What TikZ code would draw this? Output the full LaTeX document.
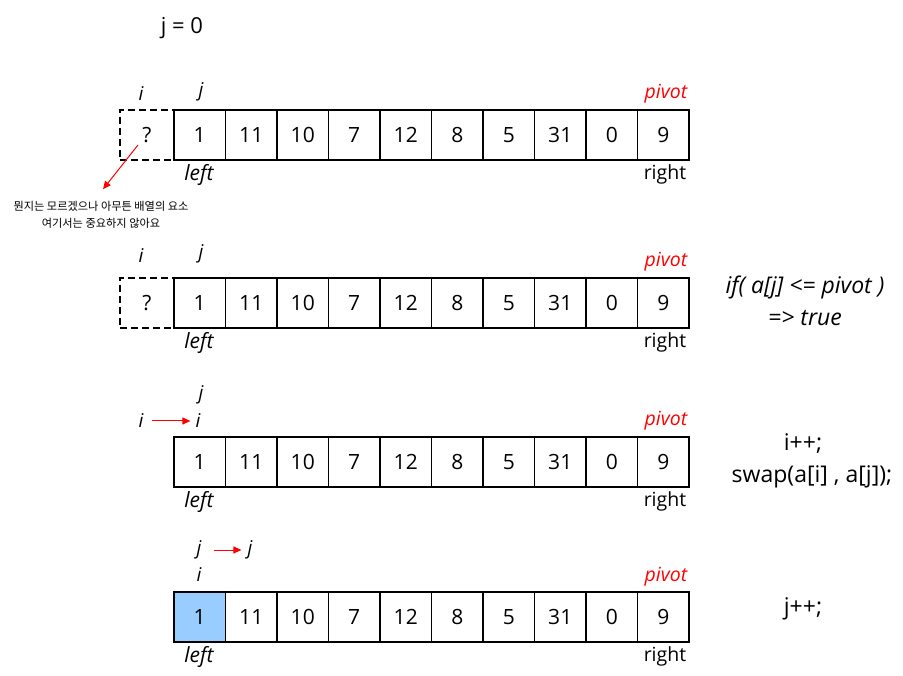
\documentclass[tikz,border=0pt]{standalone}
\usepackage{fontspec}
\setmainfont{Open Sans}
\newfontfamily\krfont{Noto Sans CJK KR}
\usepackage{tikz}
\definecolor{ptRed}{RGB}{255,0,0}
\definecolor{pickBlue}{RGB}{153,204,255}
\usetikzlibrary{positioning,arrows.meta}

\begin{document}
\begin{tikzpicture}[
  x=1pt,
  y=-1pt,
  >=Triangle,
  cell/.style={draw, line width=1.3pt, minimum width=51.5pt, minimum height=50pt, inner sep=0pt, font=\fontsize{21}{21}\selectfont},
  hole/.style={draw, line width=2pt, dash pattern=on 7pt off 4pt, minimum width=54pt, minimum height=50pt, inner sep=0pt, font=\fontsize{21}{21}\selectfont},
  var/.style={inner sep=0pt, font=\fontsize{19}{19}\selectfont\itshape},
  lbl/.style={inner sep=0pt, font=\fontsize{19.5}{19.5}\selectfont},
  pivotlbl/.style={inner sep=0pt, font=\fontsize{19.5}{19.5}\selectfont\itshape, text=ptRed},
  code/.style={inner sep=0pt, font=\fontsize{23}{23}\selectfont, align=center},
  redarr/.style={-{Triangle[length=8pt,width=7pt]}, ptRed, line width=1pt}
]
\useasboundingbox (0,0) rectangle (903,676);

\node[lbl, font=\fontsize{22}{22}\selectfont] (jzero) at (182,28) {j = 0};

% the four array rows
\foreach \row/\yy in {1/135, 2/303, 3/462, 4/617}{
  \foreach \v [count=\k] in {1,11,10,7,12,8,5,31,0,9}{
    \node[cell] (r\row c\k) at (174+51.5*\k-25.75,\yy) {\v};
  }
  \node[lbl, font=\fontsize{21}{21}\selectfont\itshape] (left\row) at (199,\yy+40) {left};
  \node[lbl] (right\row) at (665,\yy+39) {right};
}
\node[cell, fill=pickBlue] at (r4c1) {1};

% row 1
\node[hole] (q1) at (147,135) {?};
\node[var] (i1) at (141,94) {i};
\node[var] (j1) at (201,92) {j};
\node[pivotlbl] (p1) at (666,94) {pivot};
\node[inner sep=0pt, align=center, font=\krfont\fontsize{11.2}{17}\selectfont] (note) at (101,215)
  {뭔지는 모르겠으나 아무튼 배열의 요소\\여기서는 중요하지 않아요};
\draw[redarr] ([xshift=-9pt,yshift=-10pt]q1.center) -- ([xshift=2pt,yshift=12pt]note.north);

% row 2
\node[hole] (q2) at (147,303) {?};
\node[var] (i2) at (141,256) {i};
\node[var] (j2) at (201,254) {j};
\node[pivotlbl] (p2) at (666,262) {pivot};
\node[code, font=\fontsize{23}{23}\selectfont\itshape] (cmp) at (805,287) {if( a[j] <= pivot )};
\node[code, font=\fontsize{23}{23}\selectfont\itshape] (res) at (805,318) {=> true};

% row 3
\node[var] (j3) at (201,395) {j};
\node[var] (i3a) at (141,421) {i};
\node[var] (i3b) at (198,421) {i};
\node[pivotlbl] (p3) at (666,421) {pivot};
\draw[redarr] ([xshift=8pt]i3a.east) -- ([xshift=-5pt]i3b.west);
\node[code] (inc3) at (803,444) {i++;};
\node[code] (swp) at (812,477) {swap(a[i] , a[j]);};

% row 4
\node[var] (j4a) at (199,550) {j};
\node[var] (j4b) at (250,550) {j};
\node[var] (i4) at (199,575) {i};
\node[pivotlbl] (p4) at (666,577) {pivot};
\draw[redarr] ([xshift=12pt]j4a.east) -- ([xshift=-6pt]j4b.west);
\node[code] (inc4) at (803,609) {j++;};
\end{tikzpicture}
\end{document}
